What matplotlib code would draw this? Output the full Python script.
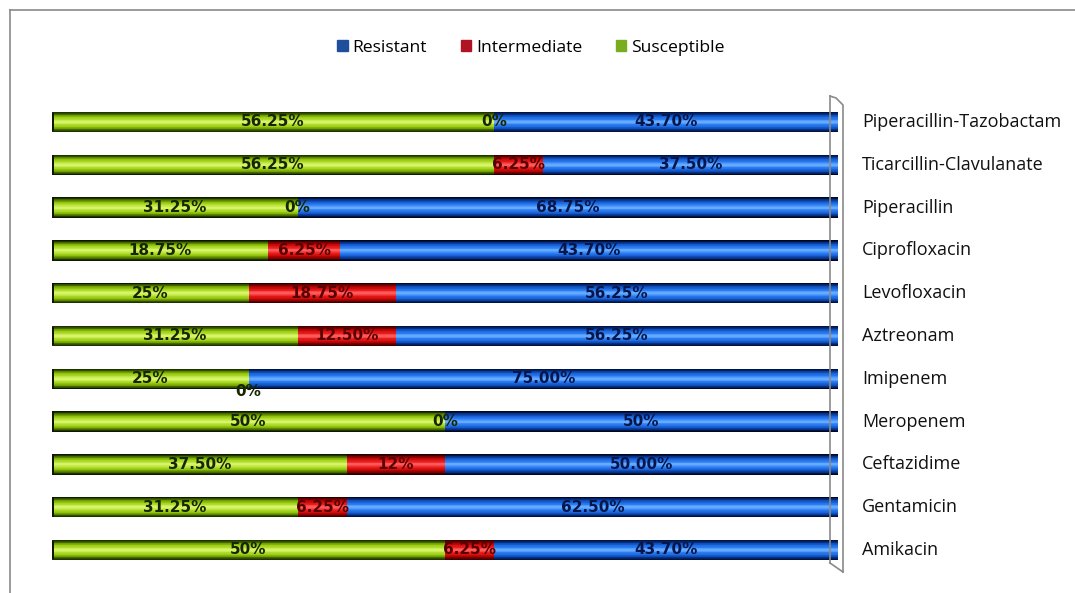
import matplotlib
matplotlib.use("Agg")
import matplotlib.pyplot as plt
from matplotlib.lines import Line2D
from matplotlib.patches import Patch
from matplotlib.colors import to_rgb
import numpy as np

categories = ["Piperacillin-Tazobactam", "Ticarcillin-Clavulanate", "Piperacillin",
              "Ciprofloxacin", "Levofloxacin", "Aztreonam", "Imipenem", "Meropenem",
              "Ceftazidime", "Gentamicin", "Amikacin"]
susceptible = [56.25, 56.25, 31.25, 27.5, 25.0, 31.25, 25.0, 50.0, 37.5, 31.25, 50.0]
intermediate = [0.0, 6.25, 0.0, 9.2, 18.75, 12.5, 0.0, 0.0, 12.5, 6.25, 6.25]
resistant = [43.75, 37.5, 68.75, 63.3, 56.25, 56.25, 75.0, 50.0, 50.0, 62.5, 43.75]

susceptible_labels = ["56.25%", "56.25%", "31.25%", "18.75%", "25%", "31.25%", "25%",
                      "50%", "37.50%", "31.25%", "50%"]
intermediate_labels = ["0%", "6.25%", "0%", "6.25%", "18.75%", "12.50%", "0%", "0%",
                       "12%", "6.25%", "6.25%"]
resistant_labels = ["43.70%", "37.50%", "68.75%", "43.70%", "56.25%", "56.25%", "75.00%",
                    "50%", "50.00%", "62.50%", "43.70%"]

W, H = 1075, 593
fig = plt.figure(figsize=(W / 100, H / 100), dpi=100)
fig.patch.set_facecolor("white")

x0, x1 = 52, 838
y_top, y_bot = 100.6, 571.4
ax = fig.add_axes([x0 / W, 1 - y_bot / H, (x1 - x0) / W, (y_bot - y_top) / H])
ax.set_xlim(0, 100)
ax.set_ylim(len(categories) - 0.5, -0.5)
ax.axis("off")

y = np.arange(len(categories))
S = np.array(susceptible)
I = np.array(intermediate)
R = np.array(resistant)

N_LAYERS = 14
heights = np.linspace(0.48, 0.05, N_LAYERS)

def ramp(stops):
    t = np.linspace(0, 1, N_LAYERS)
    pos = np.linspace(0, 1, len(stops))
    rgb = np.array([to_rgb(c) for c in stops])
    return [tuple(np.interp(tt, pos, rgb[:, k]) for k in range(3)) for tt in t]

green_cols = ramp(["#0e1a00", "#3a5e00", "#78a800", "#9ccc18", "#b4e030", "#d6f46a"])
red_cols = ramp(["#220000", "#700000", "#b40404", "#d81010", "#ea2020", "#ff5a5a"])
blue_cols = ramp(["#000722", "#042a7a", "#1050bc", "#1f6ae0", "#2c80f4", "#66aaff"])

def draw(vals, left, cols):
    for h, c in zip(heights, cols):
        ax.barh(y, vals, left=left, height=h, color=c, linewidth=0)

draw(S, 0, green_cols)
draw(I, S, red_cols)
draw(R, S + I, blue_cols)

# left rounded cap
ax.barh(y, 0.7, left=-0.5, height=0.44, color="#0e1a00", linewidth=0)
ax.barh(y, 0.5, left=-0.7, height=0.32, color="#0e1a00", linewidth=0)

lab_font = dict(fontsize=11, fontweight="bold", family="DejaVu Sans",
                ha="center", va="center")
for i in range(len(categories)):
    ax.text(S[i] / 2, y[i], susceptible_labels[i], color="#172600", **lab_font)
    dy = 0.3 if categories[i] == "Imipenem" else 0.0
    ax.text(S[i] + I[i] / 2, y[i] + dy, intermediate_labels[i],
            color="#172600" if I[i] == 0 else "#560000", **lab_font)
    ax.text(S[i] + I[i] + R[i] / 2, y[i], resistant_labels[i], color="#06164a", **lab_font)
    ax.text(100 + 24 / 786 * 100, y[i], categories[i], ha="left", va="center",
            fontsize=13, color="#111111", family="Open Sans")

def fline(xs, ys, **kw):
    fig.add_artist(Line2D([v / W for v in xs], [1 - v / H for v in ys],
                          color="#8a8a8a", lw=1.2, **kw))

fline([830, 830], [96, 563])
fline([830, 836, 843, 843], [96, 98, 105, 572])
fline([830, 843], [563, 572])

fline([10, 10], [10, 593])
fline([10, 1075], [10, 10])

handles = [Patch(color="#1f4e9c"), Patch(color="#b01424"), Patch(color="#7aac20")]
fig.legend(handles, ["Resistant", "Intermediate", "Susceptible"], loc="center",
           bbox_to_anchor=(531 / W, 1 - 48 / H), ncol=3, frameon=False,
           handlelength=0.6, handleheight=0.6, handletextpad=0.3,
           columnspacing=1.9, prop=dict(family="Open Sans", size=12.6))

fig.savefig("out.png", dpi=100)
